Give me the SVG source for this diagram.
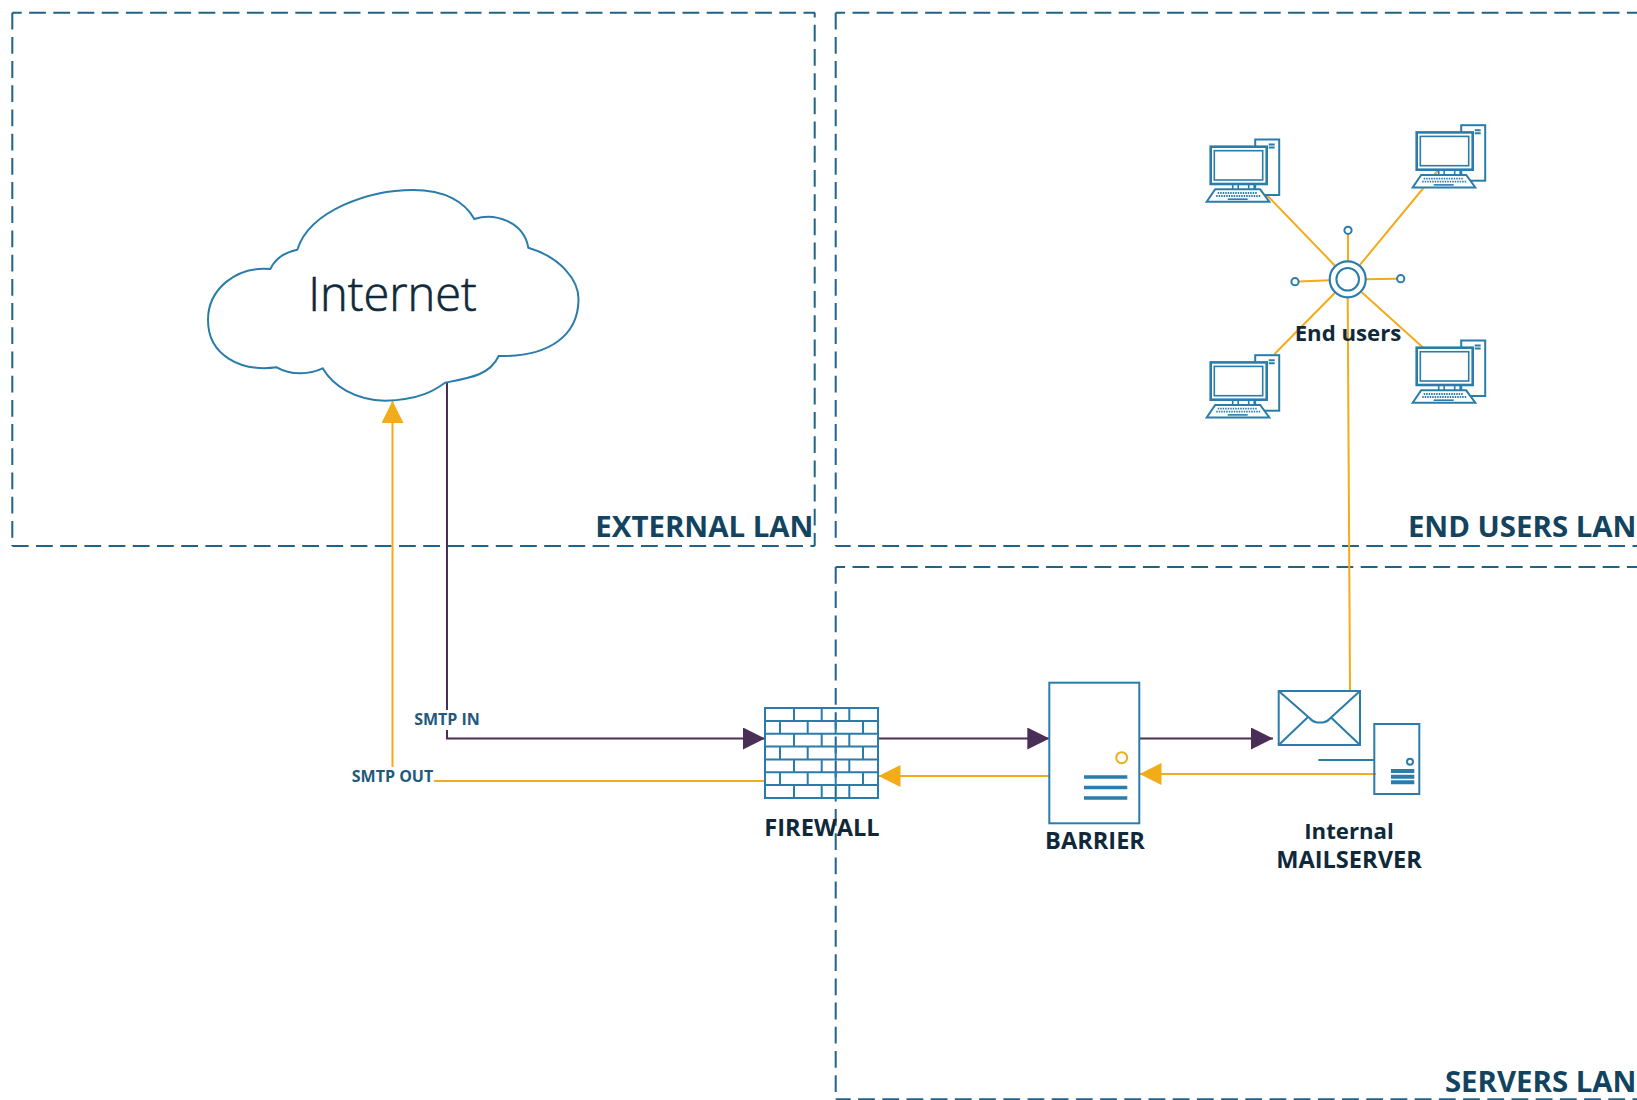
<svg xmlns="http://www.w3.org/2000/svg" width="1637" height="1100" viewBox="0 0 1637 1100">
<style>
text{font-family:"Open Sans","Noto Sans","Liberation Sans",sans-serif}
.zone{fill:none;stroke:#1f6388;stroke-width:2;stroke-dasharray:16.8 7.4}
.zl{font-size:29.4px;font-weight:700;fill:#12435f;text-anchor:end}
.lb{font-size:23.6px;font-weight:700;fill:#10293a;text-anchor:middle}
.lc{font-size:22.2px;font-weight:700;fill:#10293a;text-anchor:middle}
.sm{font-size:16px;font-weight:700;fill:#1f5a7c;text-anchor:middle}
.s{fill:none;stroke:#2a7dab;stroke-width:2}
.w{fill:#fff;stroke:#2a7dab;stroke-width:2}
.bar{stroke:#2a7dab;stroke-width:3.4}
.o{fill:none;stroke:#f3ab19;stroke-width:2}
.p{fill:none;stroke:#4b2e55;stroke-width:2}
</style>
<defs>
<marker id="ap" markerUnits="userSpaceOnUse" markerWidth="22" markerHeight="22" refX="22" refY="11" orient="auto"><path d="M0,0L22,11L0,22Z" fill="#4b2e55"/></marker>
<marker id="ao" markerUnits="userSpaceOnUse" markerWidth="22" markerHeight="22" refX="22" refY="11" orient="auto"><path d="M0,0L22,11L0,22Z" fill="#f3ab19"/></marker>
<g id="pc">
<rect class="w" x="48.5" y="0.5" width="24" height="55.5"/>
<path d="M62,5.5h6M62,8.5h6" class="s" stroke-width="1.6"/>
<rect class="w" x="4" y="7.7" width="56" height="37.3" style="stroke-width:2.6"/>
<rect class="s" x="7.6" y="11.7" width="48.4" height="29.3" style="stroke-width:1.6"/>
<path class="s" d="M26,45v5.3M31.5,45v5.3M42,45v5.3M47.5,45v5.3" style="stroke-width:1.6"/>
<path class="w" d="M8.5,50.3H53.5L62.6,62.7H0Z"/>
<path d="M11,54h40M9.5,57h44" stroke="#2a7dab" stroke-width="1.8" stroke-dasharray="1.5 1" fill="none"/>
<path d="M21,60.2H41" stroke="#2a7dab" stroke-width="1.6"/>
</g>
</defs>
<rect width="1637" height="1100" fill="#fff"/>

<g id="zones">
<path class="zone" d="M12.3,12.7V546"/>
<path class="zone" d="M12.3,12.7H815" stroke-dashoffset="7.4"/>
<path class="zone" d="M814.7,12.7V546" stroke-dashoffset="12.1"/>
<path class="zone" d="M814.7,546H12.3" stroke-dashoffset="12.5"/>
<path class="zone" d="M835.7,12.7V546"/>
<path class="zone" d="M835.7,12.7H1637" stroke-dashoffset="7.4"/>
<path class="zone" d="M835.7,546H1637" stroke-dashoffset="1.8"/>
<path class="zone" d="M835.7,567V1099.3"/>
<path class="zone" d="M835.7,567H1637" stroke-dashoffset="7.4"/>
<path class="zone" d="M835.7,1099.3H1637" stroke-dashoffset="1.8"/>
<text class="zl" x="813.5" y="536.7">EXTERNAL LAN</text>
<text class="zl" x="1636.5" y="536.7">END USERS LAN</text>
<text class="zl" x="1636.5" y="1091.7">SERVERS LAN</text>
</g>

<g id="connectors">
<path class="o" d="M1335,265.7L1266.7,195M1359.3,265.7L1438.3,170M1335,292.7L1274.3,354.3M1361.7,292.3L1423.3,347.7M1347.7,297.7L1350,690M1348,234V261M1298.5,281.5L1330,280.2M1365.6,279.2L1397,278.8"/>
<path class="p" d="M447,383V738.5H765" marker-end="url(#ap)"/>
<path class="p" d="M878,738.5H1049.3" marker-end="url(#ap)"/>
<path class="p" d="M1139.3,738.5H1273" marker-end="url(#ap)"/>
<path class="o" d="M1049.3,776H878.5" marker-end="url(#ao)"/>
<path class="o" d="M1376,774H1139.5" marker-end="url(#ao)"/>
<path class="o" d="M765,781H392.5V401" marker-end="url(#ao)"/>
</g>

<g id="cloud">
<path class="s" d="M270.3,269C276,257 286,252 297.3,249.7C310,210 370,190 413,190C445,190 465,202 474.3,219C495,212 524,222 528.3,247.7C560,257 579,280 578.5,300C578,335 550,357 498.7,356C490,375 470,378 445,382.7C435,390 420,400 385,400.7C355,400 333,386 322.7,368.3C310,374 292,376 276.7,367.3C240,372 208,355 208,320C208,290 235,266 270.3,269Z"/>
<text x="392.5" y="311" font-size="47" fill="#10293a" stroke="#10293a" stroke-width="0.6" text-anchor="middle" font-weight="300">Internet</text>
</g>

<g id="pc1"><use href="#pc" x="1206.7" y="139"/></g>
<g id="pc2"><use href="#pc" x="1412.7" y="124.7"/></g>
<g id="pc3"><use href="#pc" x="1206.7" y="354.7"/></g>
<g id="pc4"><use href="#pc" x="1412.7" y="340"/></g>

<g id="hub">
<circle class="w" cx="1347.7" cy="279.3" r="18" style="stroke-width:2.2"/>
<circle class="s" cx="1347.7" cy="279.3" r="11.3"/>
<circle class="w" cx="1348" cy="230.3" r="3.6"/>
<circle class="w" cx="1295" cy="281.7" r="3.6"/>
<circle class="w" cx="1400.7" cy="278.7" r="3.6"/>
<text class="lc" x="1348" y="341">End users</text>
</g>

<g id="firewall">
<rect class="s" x="765" y="708" width="113" height="90"/>
<path class="s" d="M765,720.9H878M765,733.7H878M765,746.6H878M765,759.4H878M765,772.3H878M765,785.1H878M794,708v12.9M821.7,708v12.9M849.3,708v12.9M780,720.9v12.8M807.7,720.9v12.8M835.7,720.9v12.8M863,720.9v12.8M794,733.7v12.9M821.7,733.7v12.9M849.3,733.7v12.9M780,746.6v12.8M807.7,746.6v12.8M835.7,746.6v12.8M863,746.6v12.8M794,759.4v12.9M821.7,759.4v12.9M849.3,759.4v12.9M780,772.3v12.8M807.7,772.3v12.8M835.7,772.3v12.8M863,772.3v12.8M794,785.1v12.9M821.7,785.1v12.9M849.3,785.1v12.9"/>
<text class="lb" x="822" y="836">FIREWALL</text>
</g>

<g id="barrier">
<rect class="s" x="1049.3" y="682.7" width="90" height="140.6"/>
<circle cx="1121.7" cy="757.7" r="5.5" fill="none" stroke="#f3ab19" stroke-width="2"/>
<path class="bar" d="M1084,777H1127.3M1084,787.5H1127.3M1084,798H1127.3"/>
<text class="lb" x="1095" y="849">BARRIER</text>
</g>

<g id="mailserver">
<rect class="s" x="1278.7" y="691" width="81.3" height="54"/>
<path class="s" d="M1278.7,691L1310,718.5Q1313,722 1317,722.5H1323Q1327,722 1330,718.5L1360,691M1278.7,745L1307.5,717.5M1360,745L1331,717.5"/>
<path class="s" d="M1318.3,760H1374.3"/>
<rect class="s" x="1374.3" y="724" width="45" height="70"/>
<circle cx="1410" cy="761.7" r="3" fill="none" stroke="#2a7dab" stroke-width="2"/>
<path d="M1391,771H1414.3M1391,776.7H1414.3M1391,782.2H1414.3" stroke="#2a7dab" stroke-width="4"/>
<text class="lc" x="1349" y="839">Internal</text>
<text class="lb" x="1349" y="867.5">MAILSERVER</text>
</g>

<g id="labels">
<rect x="414" y="710" width="66" height="20" fill="#fff"/>
<rect x="351" y="767" width="83" height="20" fill="#fff"/>
<text class="sm" x="447" y="725">SMTP IN</text>
<text class="sm" x="392.5" y="782">SMTP OUT</text>
</g>
</svg>
